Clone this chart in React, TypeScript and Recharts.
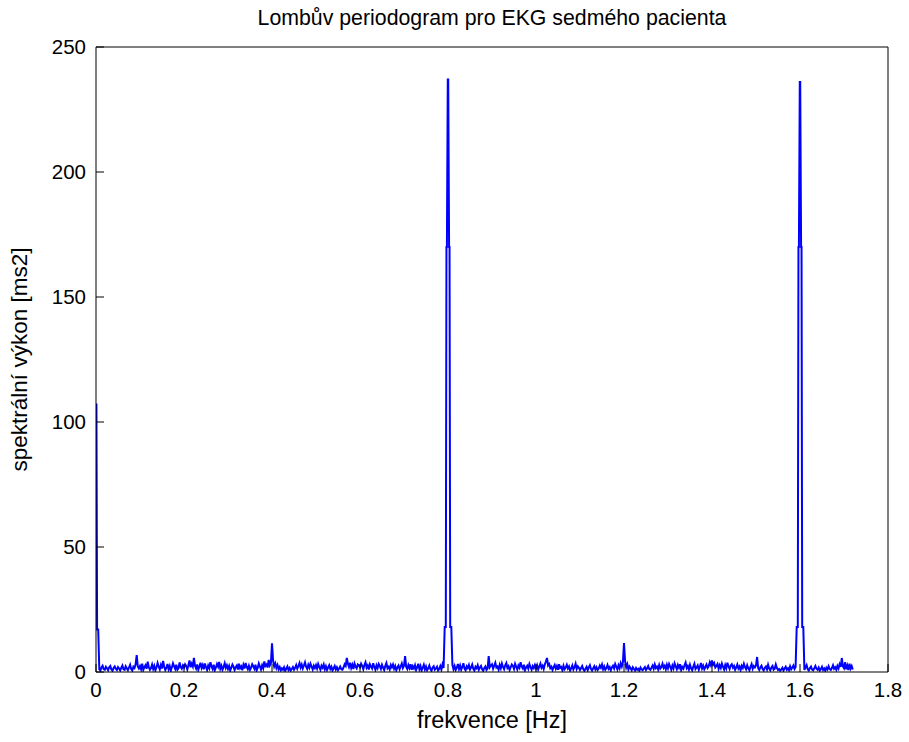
import { Line, LineChart, XAxis, YAxis } from "recharts";

const FONT = '"Liberation Sans", Arial, sans-serif';

const title = "Lombův periodogram pro EKG sedmého pacienta";
const xLabel = "frekvence [Hz]";
const yLabel = "spektrální výkon [ms2]";

const xTicks = [0, 0.2, 0.4, 0.6, 0.8, 1, 1.2, 1.4, 1.6, 1.8];
const yTicks = [0, 50, 100, 150, 200, 250];

// background periodogram, one value every 0.0025 Hz from 0 to 1.72 Hz (one row = 0.1 Hz)
const freqStep = 0.0025;
const noise = [
  1, 3, 2.2, 1.1, 0.6, 1.8, 2.5, 1.2, 0.9, 2.1, 1.5, 0.7, 1.9, 2.4, 1.0, 0.5, 1.6, 2.2, 1.3, 0.8, 2.0, 1.4, 0.6, 1.7, 2.6, 1.1, 0.9, 2.3, 1.5, 0.7, 1.8, 2.9, 1.2, 0.6, 2.1, 1.6, 3.1, 6.8, 2.2, 1.4,
  2.4, 1.1, 3.3, 0.8, 1.9, 2.7, 1.3, 4.1, 2.0, 0.9, 1.6, 3.0, 1.2, 2.5, 0.7, 1.8, 3.6, 2.2, 1.0, 2.8, 1.4, 4.4, 2.1, 0.8, 1.7, 3.2, 1.1, 2.4, 0.6, 1.9, 3.5, 2.3, 1.2, 2.9, 0.9, 1.5, 3.8, 2.0, 1.3, 2.6,
  1.8, 3.1, 2.4, 1.0, 2.7, 4.6, 1.9, 3.3, 2.2, 5.6, 2.5, 1.4, 3.0, 0.9, 2.1, 3.7, 1.6, 2.8, 1.1, 3.4, 2.0, 0.8, 2.6, 1.5, 3.9, 2.3, 1.2, 2.9, 0.7, 1.8, 3.2, 2.1, 4.0, 1.3, 2.5, 0.9, 2.0, 3.5, 1.6, 2.7,
  1.2, 2.4, 0.6, 1.7, 3.0, 2.1, 0.8, 1.9, 2.6, 1.0, 3.3, 1.5, 2.2, 0.7, 2.8, 1.4, 3.6, 2.0, 1.1, 2.5, 0.9, 1.8, 3.1, 2.3, 1.3, 2.9, 0.6, 1.6, 3.4, 2.2, 1.0, 2.7, 1.5, 4.2, 2.4, 3.0, 1.8, 4.8, 2.6, 3.5,
  3.0, 4.5, 2.2, 3.4, 1.6, 2.8, 1.1, 2.0, 0.7, 1.5, 0.9, 1.9, 0.5, 1.3, 2.2, 0.8, 1.6, 0.6, 1.2, 2.0, 0.9, 1.7, 2.8, 1.3, 2.4, 3.6, 1.8, 3.0, 1.4, 2.6, 3.9, 2.1, 1.2, 2.9, 1.7, 3.3, 2.2, 1.0, 2.5, 1.6,
  2.8, 1.4, 3.2, 2.0, 0.9, 2.5, 1.7, 3.0, 1.1, 2.3, 0.8, 1.8, 2.7, 1.2, 2.1, 0.6, 1.5, 2.4, 1.0, 1.9, 0.7, 1.4, 2.2, 1.1, 0.9, 1.8, 3.1, 2.4, 5.6, 3.3, 2.0, 3.7, 1.6, 2.9, 1.2, 3.4, 2.2, 1.5, 3.0, 2.6,
  1.9, 3.3, 2.4, 1.1, 2.8, 3.9, 1.7, 2.6, 1.0, 3.1, 2.2, 1.4, 3.5, 2.0, 0.9, 2.7, 1.6, 3.2, 2.3, 1.2, 2.9, 1.8, 0.8, 2.5, 3.6, 1.5, 2.1, 1.0, 2.8, 1.9, 3.0, 1.3, 2.4, 0.7, 1.8, 2.6, 1.1, 2.2, 3.4, 1.6,
  2.5, 6.4, 2.0, 1.2, 2.8, 1.6, 3.1, 0.9, 2.3, 1.4, 2.7, 0.8, 1.9, 3.3, 1.1, 2.4, 0.6, 1.7, 2.9, 1.0, 2.2, 0.7, 1.5, 2.6, 1.2, 0.5, 1.8, 2.3, 0.9, 1.4, 2.1, 0.6, 1.3, 2.4, 1.0, 3.0, 1.6, 2.5, 1.2, 1.8,
  2.0, 1.5, 2.2, 1.3, 2.9, 1.1, 2.4, 0.8, 1.7, 3.2, 1.2, 2.6, 0.9, 2.0, 3.5, 1.4, 0.7, 2.3, 1.6, 2.8, 1.0, 1.9, 3.0, 1.3, 0.6, 2.1, 1.5, 2.7, 0.9, 1.8, 2.4, 1.1, 0.5, 1.6, 2.2, 0.8, 1.4, 6.4, 1.9, 2.6,
  3.1, 1.3, 2.5, 3.7, 1.8, 2.2, 0.9, 2.8, 1.5, 3.4, 2.0, 1.1, 2.7, 3.6, 1.6, 2.3, 0.8, 1.9, 3.0, 2.4, 1.2, 3.3, 2.1, 1.0, 2.6, 1.7, 3.9, 2.2, 1.4, 2.9, 0.7, 1.8, 2.5, 1.3, 3.2, 2.0, 0.9, 2.4, 1.6, 2.8,
  1.4, 2.7, 1.0, 2.2, 3.4, 1.7, 2.5, 1.2, 3.0, 4.2, 5.6, 2.6, 3.2, 1.5, 2.1, 0.8, 1.9, 2.8, 1.3, 2.4, 0.9, 3.1, 1.6, 2.0, 0.7, 2.5, 1.1, 1.8, 2.9, 1.4, 2.2, 0.6, 1.5, 2.6, 1.0, 1.9, 3.3, 1.2, 2.3, 1.7,
  0.8, 1.6, 2.4, 1.1, 0.5, 1.3, 2.1, 0.7, 1.8, 2.7, 1.2, 0.6, 1.5, 2.3, 1.0, 1.9, 0.8, 1.4, 2.6, 1.7, 3.0, 1.1, 2.2, 0.9, 1.6, 2.8, 1.3, 2.0, 0.7, 1.8, 2.5, 1.4, 3.2, 2.1, 1.0, 2.7, 1.5, 3.5, 2.2, 3.9,
  3.0, 4.2, 1.8, 3.1, 1.0, 2.2, 1.5, 0.7, 1.9, 1.2, 0.6, 1.6, 0.9, 1.3, 0.5, 1.8, 1.1, 0.7, 1.4, 2.0, 0.8, 1.5, 2.4, 1.2, 0.9, 1.7, 2.6, 1.3, 3.0, 1.6, 2.2, 1.0, 2.8, 1.4, 2.0, 3.3, 1.7, 2.5, 1.1, 2.9,
  1.5, 3.2, 2.1, 0.9, 2.6, 1.4, 3.5, 2.3, 1.1, 2.8, 1.7, 3.1, 0.8, 2.0, 1.3, 2.7, 3.8, 1.6, 2.4, 1.0, 2.9, 1.5, 0.7, 2.2, 3.3, 1.2, 1.8, 2.6, 0.9, 2.1, 3.6, 1.4, 2.5, 1.1, 2.0, 3.0, 1.6, 2.3, 3.9, 2.7,
  4.6, 2.9, 3.6, 1.8, 2.4, 3.2, 1.3, 2.7, 1.6, 3.4, 2.1, 1.0, 2.8, 1.5, 3.7, 2.3, 1.2, 2.6, 3.1, 1.7, 2.4, 0.9, 1.9, 3.0, 1.4, 2.2, 0.8, 2.5, 1.6, 3.3, 2.0, 1.1, 2.7, 1.5, 0.7, 2.1, 3.2, 1.3, 2.4, 1.8,
  2.6, 6.0, 1.5, 0.8, 1.9, 2.5, 1.2, 0.6, 1.7, 2.2, 1.0, 2.9, 1.4, 0.7, 1.8, 2.4, 0.9, 1.3, 3.0, 1.6, 0.8, 1.2, 0.5, 1.0, 1.7, 0.6, 1.4, 2.1, 0.9, 1.5, 0.7, 2.3, 1.1, 1.8, 2.6, 1.2, 2.0, 1.4, 1.0, 1.7,
  2.0, 1.2, 2.5, 1.4, 0.8, 1.9, 2.8, 1.1, 0.6, 1.6, 2.2, 1.0, 0.7, 1.5, 2.4, 1.3, 0.9, 1.8, 0.6, 1.2, 2.1, 0.8, 1.4, 0.5, 1.7, 1.0, 2.3, 1.2, 0.8, 1.6, 2.7, 1.3, 1.9, 0.9, 2.4, 1.4, 3.1, 2.0, 5.6, 2.2,
  1.5, 3.9, 1.1, 2.6, 0.8, 3.3, 1.4, 2.4, 1.0,
];

// spikes [frequency Hz, power]
const peaks: [number, number][] = [
  [0, 107], [0.001, 107], [0.0025, 17], [0.005, 17],
  [0.4, 11.5],
  [0.7925, 18], [0.795, 18], [0.7965, 170], [0.7975, 170], [0.7995, 237], [0.8, 237], [0.8005, 237],
  [0.8025, 170], [0.8035, 170], [0.805, 18], [0.8075, 18],
  [1.2, 11.6],
  [1.5925, 18], [1.595, 18], [1.5965, 170], [1.5975, 170], [1.5995, 236], [1.6, 236], [1.6005, 236],
  [1.6025, 170], [1.6035, 170], [1.605, 18], [1.6075, 18],
];

const key = (f: number) => f.toFixed(4);
const merged = new Map<string, { f: number; p: number }>();
noise.forEach((p, i) => {
  const k = key(i * freqStep);
  merged.set(k, { f: Number(k), p });
});
peaks.forEach(([f, p]) => merged.set(key(f), { f, p }));
const data = [...merged.values()].sort((a, b) => a.f - b.f);

const tickStyle = { fill: "#000", fontSize: 20.5, fontFamily: FONT };

export default function App() {
  return (
    <div style={{ position: "absolute", left: 0, top: 0, fontFamily: FONT }}>
      <LineChart
        width={909}
        height={742}
        data={data}
        margin={{ top: 46, right: 20, bottom: 0, left: 0 }}
      >
        <XAxis
          xAxisId="bottom"
          dataKey="f"
          type="number"
          domain={[0, 1.8]}
          ticks={xTicks}
          interval={0}
          allowDataOverflow
          height={70}
          tickSize={-8}
          tickMargin={18}
          stroke="#000"
          tick={tickStyle}
          label={{
            value: xLabel,
            position: "insideBottom",
            offset: 14,
            fill: "#000",
            fontSize: 23.5,
            fontFamily: FONT,
          }}
        />
        <XAxis
          xAxisId="top"
          orientation="top"
          dataKey="f"
          type="number"
          domain={[0, 1.8]}
          ticks={xTicks}
          interval={0}
          allowDataOverflow
          height={1}
          tickSize={-8}
          tick={false}
          stroke="#000"
          label={{
            value: title,
            position: "top",
            offset: 21,
            fill: "#000",
            fontSize: 21.3,
            fontFamily: FONT,
          }}
        />
        <YAxis
          yAxisId="left"
          type="number"
          domain={[0, 250]}
          ticks={yTicks}
          interval={0}
          allowDataOverflow
          width={96}
          tickSize={-8}
          tickMargin={18}
          stroke="#000"
          tick={tickStyle}
          label={{
            value: yLabel,
            angle: -90,
            position: "insideLeft",
            offset: 19,
            fill: "#000",
            fontSize: 22.5,
            fontFamily: FONT,
            style: { textAnchor: "middle" },
          }}
        />
        <YAxis
          yAxisId="right"
          orientation="right"
          type="number"
          domain={[0, 250]}
          ticks={yTicks}
          interval={0}
          allowDataOverflow
          width={1}
          tickSize={-8}
          tick={false}
          stroke="#000"
        />
        <Line
          xAxisId="bottom"
          yAxisId="left"
          type="linear"
          dataKey="p"
          stroke="#0000ff"
          strokeWidth={2}
          dot={false}
          isAnimationActive={false}
        />
      </LineChart>
    </div>
  );
}
